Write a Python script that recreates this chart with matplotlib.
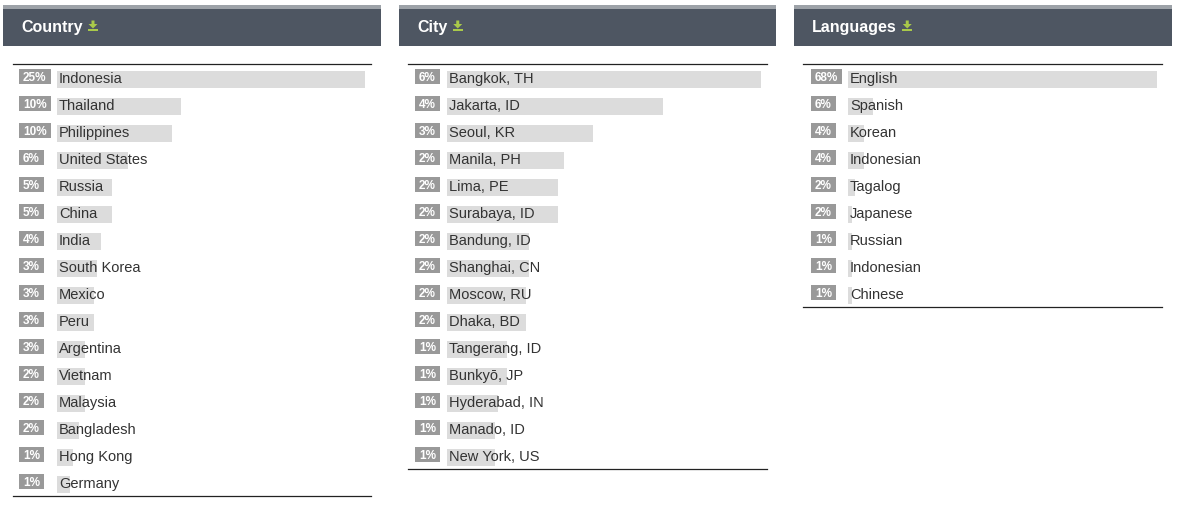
import matplotlib
matplotlib.use('Agg')
import matplotlib.pyplot as plt
from matplotlib.patches import Rectangle, Polygon

plt.rcParams['font.family'] = ['Liberation Sans', 'DejaVu Sans']

W, H = 1179, 506

# ---- data ----
country_names = ["Indonesia", "Thailand", "Philippines", "United States", "Russia", "China",
                 "India", "South Korea", "Mexico", "Peru", "Argentina", "Vietnam", "Malaysia",
                 "Bangladesh", "Hong Kong", "Germany"]
country_pct = [25, 10, 10, 6, 5, 5, 4, 3, 3, 3, 3, 2, 2, 2, 1, 1]
country_share = [25, 10.1, 9.3, 5.8, 4.5, 4.5, 3.6, 3.25, 3.0, 3.0, 2.3, 2.3, 2.3, 1.8, 1.3, 1.05]

city_names = ["Bangkok, TH", "Jakarta, ID", "Seoul, KR", "Manila, PH", "Lima, PE", "Surabaya, ID",
              "Bandung, ID", "Shanghai, CN", "Moscow, RU", "Dhaka, BD", "Tangerang, ID",
              "Bunkyō, JP", "Hyderabad, IN", "Manado, ID", "New York, US"]
city_pct = [6, 4, 3, 2, 2, 2, 2, 2, 2, 2, 1, 1, 1, 1, 1]
city_share = [6, 4.13, 2.79, 2.24, 2.12, 2.12, 1.57, 1.57, 1.51, 1.51, 1.15, 1.15, 0.97, 0.92, 0.92]

lang_names = ["English", "Spanish", "Korean", "Indonesian", "Tagalog", "Japanese", "Russian",
              "Indonesian", "Chinese"]
lang_pct = [68, 6, 4, 4, 2, 2, 1, 1, 1]
lang_share = [68, 5.5, 3.5, 3.5, 1.5, 0.9, 0.9, 0.9, 0.9]

titles = ["Country", "City", "Languages"]

# ---- layout (pixels) ----
panels = [
    dict(title=titles[0], names=country_names, pct=country_pct, share=country_share,
         hx0=3, hx1=381, lx0=13, lx1=371, badge_x=19, bar_x0=57, bar_x1=365),
    dict(title=titles[1], names=city_names, pct=city_pct, share=city_share,
         hx0=399, hx1=776, lx0=408, lx1=767, badge_x=415, bar_x0=447, bar_x1=761),
    dict(title=titles[2], names=lang_names, pct=lang_pct, share=lang_share,
         hx0=794, hx1=1172, lx0=803, lx1=1162, badge_x=811, bar_x0=848, bar_x1=1157),
]

HEAD_DARK = '#4e5662'
HEAD_STRIP = '#9da2a8'
BAR_COLOR = '#dcdcdc'
BADGE_COLOR = '#999999'
TEXT_COLOR = '#333333'
ICON_COLOR = '#a9c94a'
ROW = 27
TOP = 65

fig = plt.figure(figsize=(W / 100, H / 100), dpi=100)
fig.patch.set_facecolor('white')


def fx(x):
    return x / W


def fy(y):
    return 1 - y / H


renderer = fig.canvas.get_renderer()

for p in panels:
    # header
    fig.patches.append(Rectangle((fx(p['hx0']), fy(9.5)), (p['hx1'] - p['hx0']) / W, 3.5 / H,
                                 transform=fig.transFigure, color=HEAD_STRIP, lw=0))
    fig.patches.append(Rectangle((fx(p['hx0']), fy(47)), (p['hx1'] - p['hx0']) / W, 37.5 / H,
                                 transform=fig.transFigure, color=HEAD_DARK, lw=0))
    t = fig.text(fx(p['hx0'] + 18), fy(27.5), p['title'], color='white', fontsize=11.5,
                 fontweight='bold', va='center', ha='left')
    ext = t.get_window_extent(renderer)
    ix = ext.x1 + 5.5
    # download icon
    icon = [
        Polygon([(ix + 3.5, 21.5), (ix + 6.5, 21.5), (ix + 6.5, 25), (ix + 9.5, 25),
                 (ix + 5, 29.5), (ix + 0.5, 25), (ix + 3.5, 25)], closed=True),
        Polygon([(ix, 29.5), (ix + 10, 29.5), (ix + 10, 32), (ix, 32)], closed=True),
    ]
    for poly in icon:
        xy = poly.get_xy()
        poly.set_xy([(fx(a), fy(b)) for a, b in xy])
        poly.set_transform(fig.transFigure)
        poly.set_facecolor(ICON_COLOR)
        poly.set_edgecolor('none')
        fig.patches.append(poly)

    n = len(p['names'])
    ax = fig.add_axes([fx(p['lx0']), fy(TOP + ROW * n), (p['lx1'] - p['lx0']) / W, ROW * n / H])
    vmax = max(p['share'])
    scale = vmax / (p['bar_x1'] - p['bar_x0'])
    ax.set_xlim(-(p['bar_x0'] - p['lx0']) * scale, (p['lx1'] - p['bar_x0']) * scale)
    ax.set_ylim(n - 0.5, -0.5)
    ax.set_xticks([])
    ax.set_yticks([])
    for s in ['left', 'right']:
        ax.spines[s].set_visible(False)
    for s in ['top', 'bottom']:
        ax.spines[s].set_color('#222222')
        ax.spines[s].set_linewidth(0.9)
    ax.patch.set_alpha(0)

    ys = list(range(n))
    ax.barh([y + 0.06 for y in ys], p['share'], height=0.63, color=BAR_COLOR, zorder=1)

    for i, (name, pc) in enumerate(zip(p['names'], p['pct'])):
        ax.text(2 * scale, i + 0.03, name, va='center', ha='left', fontsize=10.5,
                color=TEXT_COLOR, zorder=3)
        bt = ax.text((p['badge_x'] - p['bar_x0'] + 4) * scale, i - 0.03, f"{pc}%",
                     va='center', ha='left', fontsize=8.5, fontweight='bold', color='white',
                     zorder=4)
        w = bt.get_window_extent(renderer).width
        ax.add_patch(Rectangle(((p['badge_x'] - p['bar_x0']) * scale, i - 0.3),
                               (w + 8) * scale, 0.54, color=BADGE_COLOR, lw=0, zorder=2))

fig.savefig('out.png', dpi=100, facecolor='white')
